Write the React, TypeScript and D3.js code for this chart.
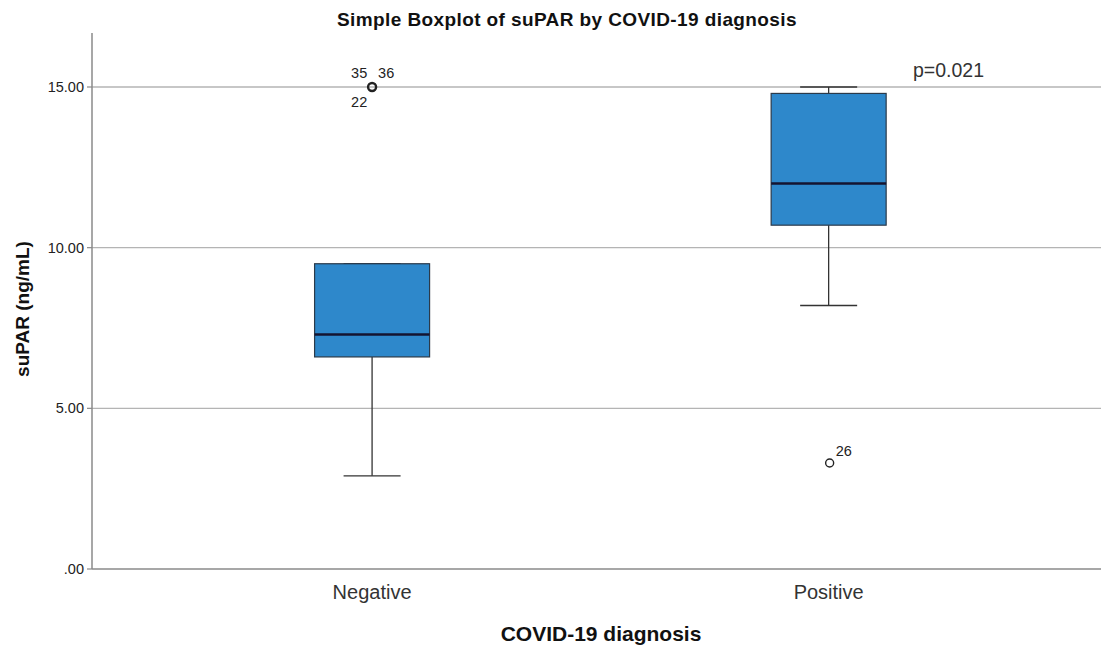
import * as d3 from "d3";

// groups and five-number summaries
const groups = ["Negative", "Positive"];
const lowerWhisker = [2.9, 8.2];
const q1 = [6.6, 10.7];
const median = [7.3, 12.0];
const q3 = [9.5, 14.8];
const upperWhisker = [9.5, 15.0];

// outliers: group, value, labels
const outlierGroup = ["Negative", "Positive"];
const outlierValue = [15.0, 3.3];
const outlierBold = [true, false];

const yTicks = [0, 5, 10, 15];
const yTickLabels = [".00", "5.00", "10.00", "15.00"];

const W = 1101;
const H = 645;
const MARGIN = { top: 33, right: 0, bottom: 76, left: 92 };
const FONT = "'Liberation Sans', Arial, sans-serif";

export default function App() {
  const plotBottom = H - MARGIN.bottom;
  const y = d3.scaleLinear().domain([0, 15]).range([plotBottom, 87]);
  const x = d3
    .scalePoint<string>()
    .domain(groups)
    .range([MARGIN.left, W - MARGIN.right])
    .padding(0.605)
    .align(0.507);

  const boxW = 115;
  const capW = 57;
  const neg = x("Negative") as number;
  const pos = x("Positive") as number;

  return (
    <svg
      width={W}
      height={H}
      style={{ position: "absolute", left: 0, top: 0, background: "#fff" }}
      fontFamily={FONT}
    >
      <text x={567} y={26} textAnchor="middle" fontSize={19} fontWeight="bold" fill="#111" letterSpacing={0.4}>
        Simple Boxplot of suPAR by COVID-19 diagnosis
      </text>

      {/* grid */}
      {yTicks.slice(1).map((t) => (
        <line key={t} x1={MARGIN.left} x2={W} y1={y(t)} y2={y(t)} stroke="#b4b4b4" strokeWidth={1.3} />
      ))}

      {/* axes */}
      <line x1={MARGIN.left} x2={MARGIN.left} y1={MARGIN.top} y2={plotBottom} stroke="#8a8a8a" strokeWidth={1.5} />
      <line x1={MARGIN.left} x2={W} y1={plotBottom} y2={plotBottom} stroke="#8a8a8a" strokeWidth={1.5} />
      {yTicks.map((t, i) => (
        <g key={t}>
          <line x1={MARGIN.left - 5} x2={MARGIN.left} y1={y(t)} y2={y(t)} stroke="#8a8a8a" strokeWidth={1.2} />
          <text x={MARGIN.left - 8} y={y(t)} dy="0.35em" textAnchor="end" fontSize={14.5} fill="#222">
            {yTickLabels[i]}
          </text>
        </g>
      ))}
      {groups.map((g) => (
        <text key={g} x={x(g)} y={599} textAnchor="middle" fontSize={20} fill="#333">
          {g}
        </text>
      ))}
      <text
        transform={`translate(29,309) rotate(-90)`}
        textAnchor="middle"
        fontSize={19}
        fontWeight="bold"
        fill="#111"
      >
        suPAR (ng/mL)
      </text>
      <text x={601} y={641} textAnchor="middle" fontSize={21} fontWeight="bold" fill="#111">
        COVID-19 diagnosis
      </text>

      {/* boxes */}
      {groups.map((g, i) => {
        const cx = x(g) as number;
        return (
          <g key={g}>
            <line x1={cx} x2={cx} y1={y(lowerWhisker[i])} y2={y(q1[i])} stroke="#333" strokeWidth={1.3} />
            <line x1={cx} x2={cx} y1={y(upperWhisker[i])} y2={y(q3[i])} stroke="#333" strokeWidth={1.3} />
            <line x1={cx - capW / 2} x2={cx + capW / 2} y1={y(lowerWhisker[i])} y2={y(lowerWhisker[i])} stroke="#333" strokeWidth={1.3} />
            <line x1={cx - capW / 2} x2={cx + capW / 2} y1={y(upperWhisker[i])} y2={y(upperWhisker[i])} stroke="#333" strokeWidth={1.3} />
            <rect
              x={cx - boxW / 2}
              y={y(q3[i])}
              width={boxW}
              height={y(q1[i]) - y(q3[i])}
              fill="#2e88cb"
              stroke="#2b3a4a"
              strokeWidth={1.2}
            />
            <line x1={cx - boxW / 2} x2={cx + boxW / 2} y1={y(median[i])} y2={y(median[i])} stroke="#141430" strokeWidth={2.5} />
          </g>
        );
      })}

      {/* outliers */}
      {outlierGroup.map((g, i) => (
        <circle
          key={i}
          cx={(x(g) as number) + (i === 0 ? 0 : 1)}
          cy={y(outlierValue[i])}
          r={4}
          fill="none"
          stroke="#222"
          strokeWidth={outlierBold[i] ? 2.4 : 1.4}
        />
      ))}
      <g fontSize={14.5} fill="#222">
        <text x={neg - 21} y={78}>35</text>
        <text x={neg + 6} y={78}>36</text>
        <text x={neg - 21} y={107}>22</text>
        <text x={pos + 7} y={456}>26</text>
      </g>

      <text x={913} y={77} fontSize={19.5} fill="#333">
        p=0.021
      </text>
    </svg>
  );
}
